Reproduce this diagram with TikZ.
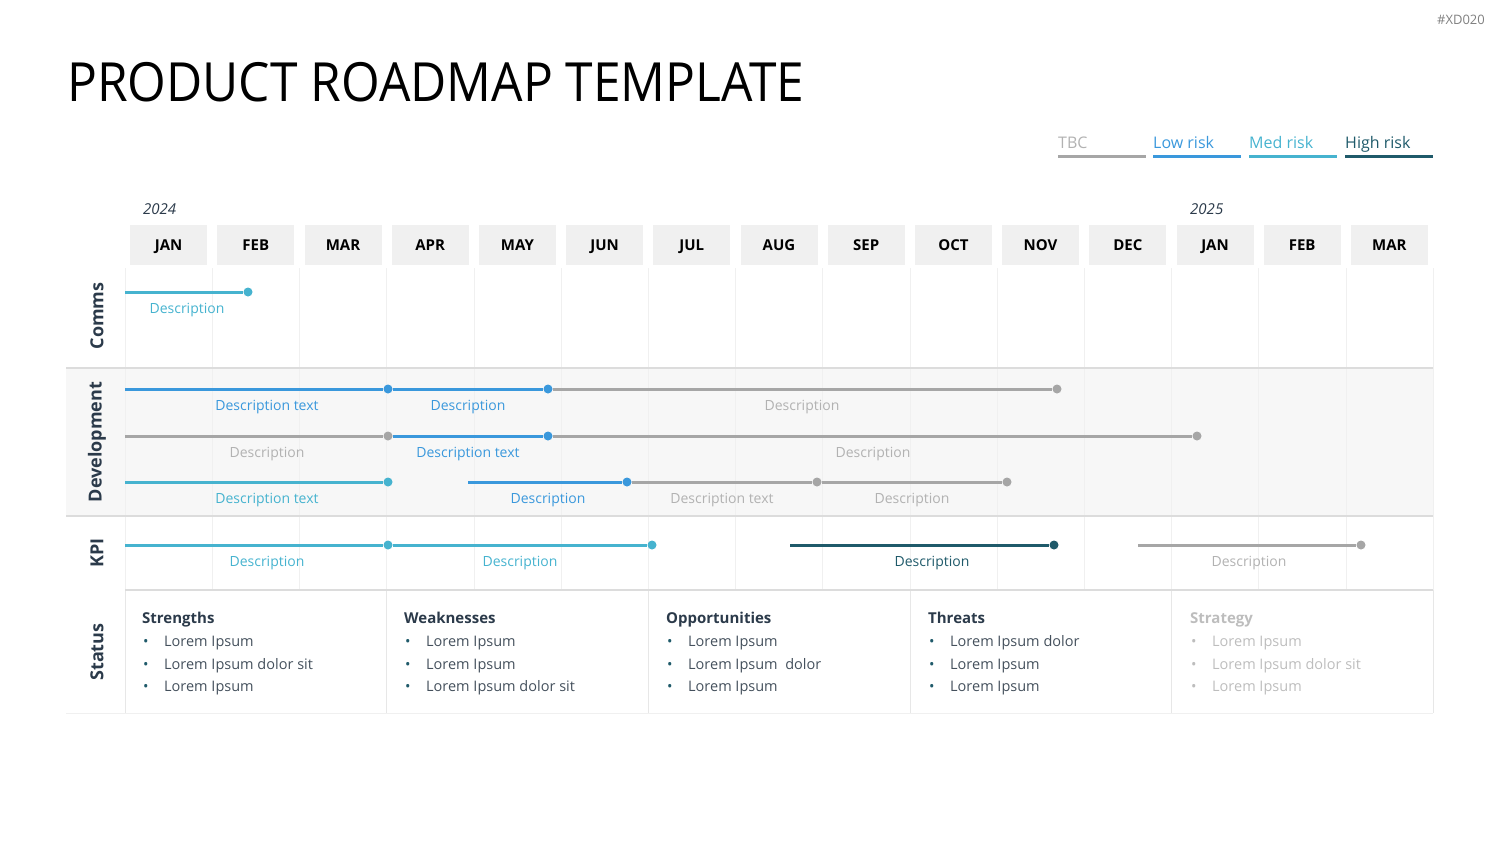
\documentclass[tikz,border=0pt]{standalone}
\usepackage{fontspec}
\setmainfont{Open Sans}
\newfontfamily\titlefont[FakeStretch=0.92]{Open Sans}
\usepackage{xcolor}
\usetikzlibrary{positioning}

\definecolor{tbc}{HTML}{A6A6A6}
\definecolor{tbctext}{HTML}{B2B2B2}
\definecolor{lowrisk}{HTML}{3A98DC}
\definecolor{medrisk}{HTML}{46B3CF}
\definecolor{highrisk}{HTML}{1F5A6A}
\definecolor{ink}{HTML}{2B3A4A}
\definecolor{body}{HTML}{44505C}
\definecolor{off}{HTML}{BDBDBD}
\definecolor{monthbg}{HTML}{F0F0F0}
\definecolor{bandbg}{HTML}{F7F7F7}
\definecolor{rule}{HTML}{DCDCDC}
\definecolor{faint}{HTML}{F0F0F0}

\tikzset{
  bar/.style={line width=3pt, draw=#1},
  dot/.style={circle, fill=#1, inner sep=0pt, minimum size=9pt},
  desc/.style={text=#1, font=\fontsize{14}{16}\selectfont, inner sep=0pt, anchor=base},
  legtext/.style={font=\fontsize{16}{18}\selectfont, inner sep=0pt, anchor=base west},
  month/.style={fill=monthbg, minimum width=77pt, minimum height=40pt, inner sep=0pt,
    text height=11pt, text depth=0pt, font=\fontsize{15}{18}\selectfont\bfseries},
  year/.style={font=\fontsize{15}{18}\selectfont\itshape, text=ink, inner sep=0pt, anchor=base west},
  rowlabel/.style={rotate=90, font=\fontsize{18}{20}\selectfont\bfseries, text=ink, inner sep=0pt},
  swhead/.style={font=\fontsize{15}{18}\selectfont\bfseries, inner sep=0pt, anchor=base west},
  switem/.style={font=\fontsize{14.5}{17}\selectfont, inner sep=0pt, anchor=base west},
}

\begin{document}
\begin{tikzpicture}[x=1pt, y=-1pt]
  \useasboundingbox (0,0) rectangle (1500,844);

  % Tag and title
  \node[font=\fontsize{13}{15}\selectfont, text=gray, inner sep=0pt, anchor=base east] (tag) at (1485,24) {\#XD020};
  \node[font=\titlefont\fontsize{54}{60}\selectfont, inner sep=0pt, anchor=base west] (title) at (67,101) {PRODUCT ROADMAP TEMPLATE};

  % Legend
  \foreach \x/\txt/\col/\tcol [count=\i] in {1058/TBC/tbc/tbctext, 1153/Low risk/lowrisk/lowrisk,
      1249/Med risk/medrisk/medrisk, 1345/High risk/highrisk/highrisk}{
    \node[legtext, text=\tcol] (leg\i) at (\x,148) {\txt};
    \coordinate (legA\i) at (\x,156);
    \coordinate (legB\i) at (\x+88,156);
    \draw[bar=\col] (legA\i) -- (legB\i);
  }

  % Months and years
  \foreach \m [count=\i from 0] in {JAN,FEB,MAR,APR,MAY,JUN,JUL,AUG,SEP,OCT,NOV,DEC,JAN,FEB,MAR}
    \node[month] (m\i) at (168.6+87.2*\i,245) {\m};
  \node[year] (y24) at (143,214) {2024};
  \node[year] (y25) at (1190,214) {2025};

  % Grid
  \fill[bandbg] (66,368) rectangle (1433,516);
  \foreach \i in {0,...,15}
    \draw[faint] (125+87.2*\i,268) -- (125+87.2*\i,590);
  \foreach \x in {125,386.6,648.2,909.8,1171.4,1433}
    \draw[rule!70] (\x,590) -- (\x,713);
  \draw[rule, line width=1.5pt] (66,368) -- (1433,368);
  \draw[rule, line width=1.5pt] (66,516) -- (1433,516);
  \draw[rule, line width=1.5pt] (125,590) -- (1433,590);
  \draw[faint] (66,713) -- (1433,713);

  % Row labels
  \node[rowlabel] (comms) at (97,316) {Comms};
  \node[rowlabel] (dev) at (97,442) {Development};
  \node[rowlabel] (kpi) at (97,553) {KPI};
  \node[rowlabel] (status) at (97,652) {Status};

  % Comms
  \coordinate (c0) at (125,292);
  \node[dot=medrisk] (c1) at (248,292) {};
  \draw[bar=medrisk] (c0) -- (c1);
  \node[desc=medrisk] (cl1) at (187,313) {Description};

  % Development, line 1
  \coordinate (a0) at (125,389);
  \node[dot=lowrisk] (a1) at (388,389) {};
  \node[dot=lowrisk] (a2) at (548,389) {};
  \node[dot=tbc] (a3) at (1057,389) {};
  \draw[bar=lowrisk] (a0) -- (a1);
  \draw[bar=lowrisk] (a1) -- (a2);
  \draw[bar=tbc] (a2) -- (a3);
  \node[desc=lowrisk] (al1) at (267,410) {Description text};
  \node[desc=lowrisk] (al2) at (468,410) {Description};
  \node[desc=tbctext] (al3) at (802,410) {Description};

  % Development, line 2
  \coordinate (b0) at (125,436);
  \node[dot=tbc] (b1) at (388,436) {};
  \node[dot=lowrisk] (b2) at (548,436) {};
  \node[dot=tbc] (b3) at (1197,436) {};
  \draw[bar=tbc] (b0) -- (b1);
  \draw[bar=lowrisk] (b1) -- (b2);
  \draw[bar=tbc] (b2) -- (b3);
  \node[desc=tbctext] (bl1) at (267,457) {Description};
  \node[desc=lowrisk] (bl2) at (468,457) {Description text};
  \node[desc=tbctext] (bl3) at (873,457) {Description};

  % Development, line 3
  \coordinate (d0) at (125,482);
  \node[dot=medrisk] (d1) at (388,482) {};
  \coordinate (d2) at (468,482);
  \node[dot=lowrisk] (d3) at (627,482) {};
  \node[dot=tbc] (d4) at (817,482) {};
  \node[dot=tbc] (d5) at (1007,482) {};
  \draw[bar=medrisk] (d0) -- (d1);
  \draw[bar=lowrisk] (d2) -- (d3);
  \draw[bar=tbc] (d3) -- (d4);
  \draw[bar=tbc] (d4) -- (d5);
  \node[desc=medrisk] (dl1) at (267,503) {Description text};
  \node[desc=lowrisk] (dl2) at (548,503) {Description};
  \node[desc=tbctext] (dl3) at (722,503) {Description text};
  \node[desc=tbctext] (dl4) at (912,503) {Description};

  % KPI
  \coordinate (k0) at (125,545);
  \node[dot=medrisk] (k1) at (388,545) {};
  \node[dot=medrisk] (k2) at (652,545) {};
  \coordinate (k3) at (790,545);
  \node[dot=highrisk] (k4) at (1054,545) {};
  \coordinate (k5) at (1138,545);
  \node[dot=tbc] (k6) at (1361,545) {};
  \draw[bar=medrisk] (k0) -- (k1);
  \draw[bar=medrisk] (k1) -- (k2);
  \draw[bar=highrisk] (k3) -- (k4);
  \draw[bar=tbc] (k5) -- (k6);
  \node[desc=medrisk] (kl1) at (267,566) {Description};
  \node[desc=medrisk] (kl2) at (520,566) {Description};
  \node[desc=highrisk] (kl3) at (932,566) {Description};
  \node[desc=tbctext] (kl4) at (1249,566) {Description};

  % Status
  \foreach \x/\head/\a/\b/\c/\hd/\it/\bu [count=\i] in {
      142/Strengths/Lorem Ipsum/Lorem Ipsum dolor sit/Lorem Ipsum/ink/body/highrisk,
      404/Weaknesses/Lorem Ipsum/Lorem Ipsum/Lorem Ipsum dolor sit/ink/body/highrisk,
      666/Opportunities/Lorem Ipsum/Lorem Ipsum~ dolor/Lorem Ipsum/ink/body/highrisk,
      928/Threats/Lorem Ipsum dolor/Lorem Ipsum/Lorem Ipsum/ink/body/highrisk,
      1190/Strategy/Lorem Ipsum/Lorem Ipsum dolor sit/Lorem Ipsum/off/off/off}{
    \node[swhead, text=\hd] (sh\i) at (\x,623) {\head};
    \node[switem, text=\bu] (sb\i a) at (\x+1,646) {•};
    \node[switem, text=\bu] (sb\i b) at (\x+1,669) {•};
    \node[switem, text=\bu] (sb\i c) at (\x+1,691) {•};
    \node[switem, text=\it] (si\i a) at (\x+22,646) {\a};
    \node[switem, text=\it] (si\i b) at (\x+22,669) {\b};
    \node[switem, text=\it] (si\i c) at (\x+22,691) {\c};
  }
\end{tikzpicture}
\end{document}
